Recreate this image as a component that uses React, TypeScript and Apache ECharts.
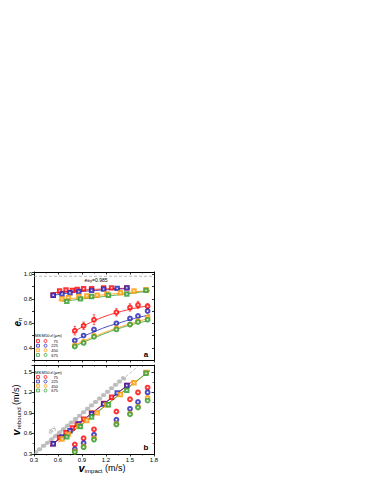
import React, { useEffect, useRef } from 'react';
import * as echarts from 'echarts';

const COLORS = ['#ff0000', '#1f1fb4', '#ff9900', '#2e9b2e'];
const SIZES = ['75', '225', '450', '675'];
const X_TICKS = [0.3, 0.6, 0.9, 1.2, 1.5, 1.8];
const EN_TICKS = [0.4, 0.6, 0.8, 1.0];
const VR_TICKS = [0.3, 0.6, 0.9, 1.2, 1.5];
const E_DRY = 0.985;

// MS particles (squares): impact velocity, restitution, rebound velocity
const MS_X = [
  [0.54, 0.62, 0.70, 0.78, 0.84, 0.92, 1.02, 1.17, 1.27, 1.46],
  [0.54, 0.65, 0.75, 0.86, 1.02, 1.17, 1.34, 1.46],
  [0.65, 0.73, 0.86, 0.96, 1.09, 1.21, 1.38, 1.55, 1.70],
  [0.71, 0.88, 1.02, 1.23, 1.46, 1.70],
];
const MS_EN = [
  [0.83, 0.865, 0.873, 0.87, 0.878, 0.883, 0.883, 0.89, 0.89, 0.89],
  [0.83, 0.84, 0.85, 0.86, 0.87, 0.88, 0.886, 0.89],
  [0.80, 0.81, 0.82, 0.825, 0.83, 0.84, 0.85, 0.865, 0.875],
  [0.78, 0.80, 0.82, 0.83, 0.84, 0.87],
];
const MS_VR = [
  [0.45, 0.54, 0.61, 0.68, 0.74, 0.81, 0.90, 1.04, 1.13, 1.30],
  [0.45, 0.55, 0.64, 0.74, 0.89, 1.03, 1.19, 1.30],
  [0.52, 0.59, 0.71, 0.79, 0.90, 1.02, 1.17, 1.34, 1.49],
  [0.55, 0.70, 0.84, 1.02, 1.23, 1.48],
];

// M50 particles (circles)
const M50_X = [0.81, 0.92, 1.05, 1.33, 1.50, 1.60, 1.72];
const M50_EN = [
  [0.54, 0.58, 0.63, 0.69, 0.73, 0.75, 0.74],
  [0.46, 0.50, 0.55, 0.60, 0.64, 0.66, 0.70],
  [0.42, 0.45, 0.50, 0.56, 0.59, 0.62, 0.65],
  [0.41, 0.44, 0.49, 0.55, 0.59, 0.61, 0.63],
];
const M50_EN_ERR = [0.035, 0.03, 0.04, 0.03, 0.03, 0.03, 0.02];
const M50_VR = [
  [0.44, 0.53, 0.66, 0.92, 1.10, 1.20, 1.27],
  [0.37, 0.46, 0.58, 0.80, 0.96, 1.06, 1.20],
  [0.34, 0.41, 0.53, 0.74, 0.89, 0.99, 1.12],
  [0.33, 0.40, 0.51, 0.73, 0.88, 0.98, 1.08],
];

// fitted curves, panel a
const FIT_A_MS_X = [
  [0.5, 0.7, 0.9, 1.1, 1.3, 1.5],
  [0.5, 0.7, 0.9, 1.1, 1.3, 1.5],
  [0.6, 0.8, 1.0, 1.2, 1.4, 1.6, 1.75],
  [0.65, 0.85, 1.05, 1.25, 1.45, 1.65, 1.75],
];
const FIT_A_MS_Y = [
  [0.845, 0.862, 0.872, 0.879, 0.884, 0.888],
  [0.825, 0.845, 0.86, 0.87, 0.878, 0.885],
  [0.79, 0.805, 0.82, 0.835, 0.848, 0.86, 0.868],
  [0.78, 0.795, 0.81, 0.825, 0.84, 0.857, 0.866],
];
const FIT_A_M50_X = [0.78, 0.9, 1.05, 1.2, 1.35, 1.5, 1.65, 1.75];
const FIT_A_M50_Y = [
  [0.52, 0.57, 0.62, 0.66, 0.69, 0.715, 0.735, 0.745],
  [0.45, 0.49, 0.53, 0.57, 0.60, 0.63, 0.655, 0.67],
  [0.41, 0.45, 0.49, 0.53, 0.565, 0.595, 0.625, 0.64],
  [0.40, 0.44, 0.48, 0.52, 0.555, 0.585, 0.61, 0.625],
];

// fitted lines, panel b (start/end)
const FIT_B_MS_X = [[0.5, 1.55], [0.5, 1.5], [0.6, 1.75], [0.65, 1.75]];
const FIT_B_MS_Y = [[0.42, 1.38], [0.41, 1.33], [0.47, 1.52], [0.5, 1.52]];
const FIT_B_M50_X = [[0.8, 1.75], [0.8, 1.75], [0.8, 1.75], [0.8, 1.75]];
const FIT_B_M50_Y = [[0.42, 1.3], [0.36, 1.2], [0.33, 1.14], [0.32, 1.1]];

// dry impacts
const DRY_X = [0.33, 0.36, 0.38, 0.41, 0.43, 0.46, 0.48, 0.51, 0.53, 0.56, 0.58, 0.61, 0.63, 0.66, 0.68, 0.71, 0.73, 0.76, 0.78, 0.81, 0.83, 0.86, 0.88, 0.91, 0.93, 0.96, 0.98, 1.01, 1.03, 1.06, 1.08, 1.11, 1.13, 1.16, 1.18, 1.21, 1.23, 1.26, 1.28, 1.31, 1.33, 1.36, 1.38, 1.41, 1.43];
const DRY_VR = [0.33, 0.37, 0.37, 0.42, 0.42, 0.46, 0.47, 0.51, 0.52, 0.56, 0.57, 0.61, 0.62, 0.66, 0.67, 0.71, 0.72, 0.76, 0.76, 0.81, 0.81, 0.86, 0.86, 0.91, 0.91, 0.96, 0.96, 1.01, 1.01, 1.06, 1.06, 1.11, 1.11, 1.16, 1.16, 1.21, 1.21, 1.26, 1.26, 1.31, 1.31, 1.36, 1.36, 1.41, 1.40];
const DRY_LINE_X = [0.3, 1.6];
const DRY_LINE_Y = [0.3, 1.58];

const FONT = 'Liberation Sans, Arial, sans-serif';
const zip = (a: number[], b: number[]) => a.map((v, i) => [v, b[i]]);

function buildOption() {
  const series: any[] = [];
  const axisCommon = (labels: boolean, outward: boolean) => ({
    axisLine: { show: true, lineStyle: { color: '#000', width: 1 } },
    axisTick: { show: true, inside: !outward, length: 2.5, lineStyle: { color: '#000', width: 0.8 } },
    minorTick: { show: true, splitNumber: 2, length: 1.5, lineStyle: { color: '#000', width: 0.6 } },
    splitLine: { show: false },
    axisLabel: { show: labels, fontSize: 6, color: '#000', fontFamily: FONT, margin: 2 },
  });
  const xAxisMake = (grid: number, pos: 'bottom' | 'top', labels: boolean) => ({
    type: 'value', gridIndex: grid, position: pos, min: 0.3, max: 1.8, interval: 0.3,
    ...axisCommon(labels, pos === 'bottom'),
    axisLabel: {
      show: labels, fontSize: 6, color: '#000', fontFamily: FONT, margin: 3,
      formatter: (v: number) => (X_TICKS.some((t) => Math.abs(t - v) < 1e-6) ? v.toFixed(1) : ''),
    },
  });
  const xAxis = [
    xAxisMake(0, 'bottom', false),
    xAxisMake(0, 'top', false),
    xAxisMake(1, 'bottom', true),
    xAxisMake(1, 'top', false),
  ];
  const yA = (pos: 'left' | 'right', labels: boolean) => ({
    type: 'value', gridIndex: 0, position: pos, min: 0.3, max: 1.02, interval: 0.1,
    ...axisCommon(labels, pos === 'left'),
    minorTick: { show: false },
    axisTick: { show: true, inside: pos === 'right', length: 2, lineStyle: { color: '#000', width: 0.8 } },
    axisLabel: {
      show: labels, fontSize: 6, color: '#000', fontFamily: FONT, margin: 2,
      formatter: (v: number) => (EN_TICKS.some((t) => Math.abs(t - v) < 1e-6) ? v.toFixed(1) : ''),
    },
  });
  const yB = (pos: 'left' | 'right', labels: boolean) => ({
    type: 'value', gridIndex: 1, position: pos, min: 0.3, max: 1.6, interval: 0.3,
    ...axisCommon(labels, pos === 'left'),
    axisLabel: {
      show: labels, fontSize: 6, color: '#000', fontFamily: FONT, margin: 2,
      formatter: (v: number) => (VR_TICKS.some((t) => Math.abs(t - v) < 1e-6) ? v.toFixed(1) : ''),
    },
  });
  const yAxis = [yA('left', true), yA('right', false), yB('left', true), yB('right', false)];

  // panel a: e_dry line
  series.push({
    type: 'line', xAxisIndex: 0, yAxisIndex: 0, data: [[0.3, E_DRY], [1.8, E_DRY]],
    symbol: 'none', lineStyle: { color: '#aaa', width: 0.8, type: [3, 2] }, z: 1,
  });
  // panel b: dry
  series.push({
    type: 'line', xAxisIndex: 2, yAxisIndex: 2, data: zip(DRY_LINE_X, DRY_LINE_Y),
    symbol: 'none', lineStyle: { color: '#aaa', width: 0.8, type: [3, 2] }, z: 1,
  });
  series.push({
    type: 'scatter', xAxisIndex: 2, yAxisIndex: 2, data: zip(DRY_X, DRY_VR),
    symbol: 'emptyCircle', symbolSize: 2, itemStyle: { color: '#b4b4b4', borderWidth: 0.6 }, z: 2,
  });

  for (let c = 0; c < 4; c++) {
    const col = COLORS[c];
    const lineStyle = { color: col, width: 0.8 };
    // fits
    series.push({ type: 'line', smooth: true, xAxisIndex: 0, yAxisIndex: 0, symbol: 'none', lineStyle, z: 3, data: zip(FIT_A_MS_X[c], FIT_A_MS_Y[c]) });
    series.push({ type: 'line', smooth: true, xAxisIndex: 0, yAxisIndex: 0, symbol: 'none', lineStyle, z: 3, data: zip(FIT_A_M50_X, FIT_A_M50_Y[c]) });
    series.push({ type: 'line', xAxisIndex: 2, yAxisIndex: 2, symbol: 'none', lineStyle, z: 3, data: zip(FIT_B_MS_X[c], FIT_B_MS_Y[c]) });
    series.push({ type: 'line', xAxisIndex: 2, yAxisIndex: 2, symbol: 'none', lineStyle, z: 3, data: zip(FIT_B_M50_X, FIT_B_M50_Y[c]) });
    // markers
    const sq = { type: 'scatter', symbol: 'emptyRect', symbolSize: 3.4, itemStyle: { color: col, borderWidth: 0.8 }, z: 5 };
    const ci = { type: 'scatter', symbol: 'emptyCircle', symbolSize: 3.8, itemStyle: { color: col, borderWidth: 0.8 }, z: 5 };
    series.push({ ...sq, xAxisIndex: 0, yAxisIndex: 0, data: zip(MS_X[c], MS_EN[c]) });
    series.push({ ...ci, xAxisIndex: 0, yAxisIndex: 0, data: zip(M50_X, M50_EN[c]) });
    series.push({ ...sq, xAxisIndex: 2, yAxisIndex: 2, data: zip(MS_X[c], MS_VR[c]) });
    series.push({ ...ci, xAxisIndex: 2, yAxisIndex: 2, data: zip(M50_X, M50_VR[c]) });
  }
  // error bars for red M50
  series.push({
    type: 'custom', xAxisIndex: 0, yAxisIndex: 0, z: 4,
    data: M50_X.map((x, i) => [x, M50_EN[0][i], M50_EN_ERR[i]]),
    renderItem: (_p: any, api: any) => {
      const x = api.value(0), y = api.value(1), e = api.value(2);
      const a = api.coord([x, y - e]);
      const b = api.coord([x, y + e]);
      const style = { stroke: COLORS[0], lineWidth: 0.6 };
      return {
        type: 'group',
        children: [
          { type: 'line', shape: { x1: a[0], y1: a[1], x2: b[0], y2: b[1] }, style },
          { type: 'line', shape: { x1: a[0] - 1.3, y1: a[1], x2: a[0] + 1.3, y2: a[1] }, style },
          { type: 'line', shape: { x1: b[0] - 1.3, y1: b[1], x2: b[0] + 1.3, y2: b[1] }, style },
        ],
      };
    },
  });

  // graphic: legends, titles, labels
  const graphic: any[] = [];
  const legend = (headerY: number, rowYs: number[]) => {
    const ts = { fontSize: 4, fontFamily: FONT, fill: '#000', verticalAlign: 'middle' };
    graphic.push({ type: 'text', x: 38, y: headerY, style: { ...ts, text: 'MS', align: 'center' } });
    graphic.push({ type: 'text', x: 45.5, y: headerY, style: { ...ts, text: 'M50', align: 'center' } });
    graphic.push({
      type: 'text', x: 56, y: headerY,
      style: { ...ts, text: '{i|d} (μm)', align: 'center', rich: { i: { fontStyle: 'italic', fontSize: 4, fontFamily: FONT } } },
    });
    rowYs.forEach((ry, i) => {
      graphic.push({ type: 'rect', shape: { x: 36.6, y: ry - 1.4, width: 2.8, height: 2.8 }, style: { fill: 'none', stroke: COLORS[i], lineWidth: 0.8 } });
      graphic.push({ type: 'circle', shape: { cx: 45.5, cy: ry, r: 1.5 }, style: { fill: 'none', stroke: COLORS[i], lineWidth: 0.8 } });
      graphic.push({ type: 'text', x: 58, y: ry, style: { ...ts, text: SIZES[i], align: 'right' } });
    });
  };
  legend(335.5, [341, 345.7, 350.3, 355]);
  legend(372, [377, 381.5, 386, 390.5]);

  graphic.push({
    type: 'text', x: 96, y: 279.5,
    style: {
      text: '{e|e}{s|dry}{t|=0.985}', align: 'center', verticalAlign: 'middle', fill: '#000',
      rich: {
        e: { fontSize: 5, fontStyle: 'italic', fontFamily: FONT },
        s: { fontSize: 3.5, fontFamily: FONT, padding: [2, 0, 0, 0] },
        t: { fontSize: 5, fontFamily: FONT },
      },
    },
  });
  graphic.push({ type: 'text', x: 146, y: 354, style: { text: 'a', fontSize: 8, fontWeight: 'bold', fontFamily: FONT, align: 'center', verticalAlign: 'middle', fill: '#000' } });
  graphic.push({ type: 'text', x: 146, y: 447, style: { text: 'b', fontSize: 8, fontWeight: 'bold', fontFamily: FONT, align: 'center', verticalAlign: 'middle', fill: '#000' } });
  graphic.push({
    type: 'text', x: 52, y: 430, rotation: Math.PI / 4,
    style: { text: 'dry', fontSize: 6, fontFamily: FONT, fill: '#999', align: 'center', verticalAlign: 'middle' },
  });
  graphic.push({
    type: 'text', x: 17, y: 322, rotation: Math.PI / 2,
    style: {
      text: '{v|e}{s|n}', align: 'center', verticalAlign: 'middle', fill: '#000',
      rich: {
        v: { fontSize: 10, fontStyle: 'italic', fontWeight: 'bold', fontFamily: FONT },
        s: { fontSize: 6, fontFamily: FONT, padding: [5, 0, 0, 0] },
      },
    },
  });
  graphic.push({
    type: 'text', x: 16, y: 410, rotation: Math.PI / 2,
    style: {
      text: '{v|v}{s|rebound}{t| (m/s)}', align: 'center', verticalAlign: 'middle', fill: '#000',
      rich: {
        v: { fontSize: 11, fontStyle: 'italic', fontWeight: 'bold', fontFamily: FONT },
        s: { fontSize: 6, fontFamily: FONT, padding: [6, 0, 0, 0] },
        t: { fontSize: 9, fontFamily: FONT },
      },
    },
  });
  graphic.push({
    type: 'text', x: 102, y: 468,
    style: {
      text: '{v|v}{s|impact}{t| (m/s)}', align: 'center', verticalAlign: 'middle', fill: '#000',
      rich: {
        v: { fontSize: 11, fontStyle: 'italic', fontWeight: 'bold', fontFamily: FONT },
        s: { fontSize: 6, fontFamily: FONT, padding: [6, 0, 0, 0] },
        t: { fontSize: 9, fontFamily: FONT },
      },
    },
  });

  return {
    animation: false,
    backgroundColor: '#fff',
    grid: [
      { left: 34, top: 272, width: 120, height: 88 },
      { left: 34, top: 365, width: 120, height: 89 },
    ],
    xAxis,
    yAxis,
    series,
    graphic,
  };
}

export default function App() {
  const ref = useRef<HTMLDivElement>(null);
  useEffect(() => {
    if (!ref.current) return;
    const chart = echarts.init(ref.current, null, { renderer: 'svg' });
    chart.setOption(buildOption() as any);
    return () => chart.dispose();
  }, []);
  return <div ref={ref} style={{ position: 'fixed', left: 0, top: 0, width: 374, height: 484, background: '#fff' }} />;
}
